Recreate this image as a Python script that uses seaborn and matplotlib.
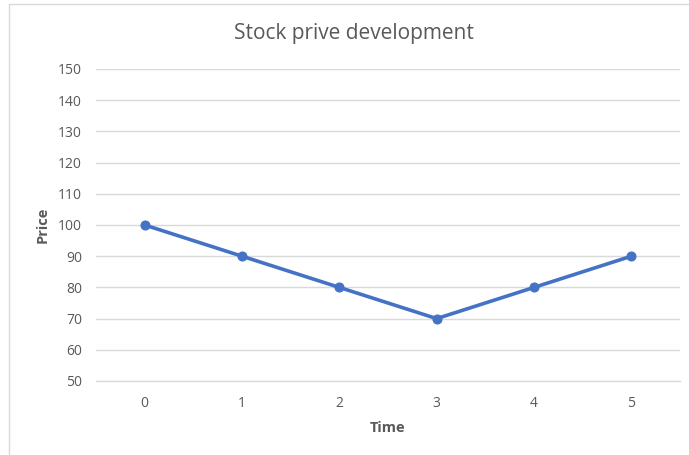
import matplotlib
matplotlib.use("Agg")
import matplotlib.pyplot as plt
from matplotlib.patches import Rectangle
import seaborn as sns
import pandas as pd

# Stock price series
time = [0, 1, 2, 3, 4, 5]
price = [100, 90, 80, 70, 80, 90]
y_ticks = [50, 60, 70, 80, 90, 100, 110, 120, 130, 140, 150]

sns.set_theme(style="white")
plt.rcParams["font.family"] = ["Open Sans", "DejaVu Sans"]

df = pd.DataFrame({"Time": time, "Price": price})

W, H = 689, 455
fig = plt.figure(figsize=(W / 100, H / 100), dpi=100)
fig.patch.set_facecolor("white")

# thin chart-area frame
fig.patches.append(Rectangle((9 / W, -0.01), 1.0, 1 - 4 / H + 0.01,
                             transform=fig.transFigure, fill=False,
                             edgecolor="#d9d9d9", linewidth=1.0))

ax = fig.add_axes([96 / W, 1 - 381 / H, (680 - 96) / W, (381 - 69) / H])
ax.set_facecolor("white")

sns.lineplot(data=df, x="Time", y="Price", ax=ax, color="#4472C4",
             linewidth=2.6, marker="o", markersize=6.5,
             markeredgecolor="#4472C4", zorder=3, clip_on=False)

ax.set_xlim(-0.5, 5.5)
ax.set_ylim(50, 150)
ax.set_yticks(y_ticks)
ax.set_xticks(time)
ax.set_xticks([t - 0.5 for t in time] + [5.5], minor=True)

ax.yaxis.grid(True, color="#d9d9d9", linewidth=1.0)
ax.set_axisbelow(True)
for side in ["top", "right", "left"]:
    ax.spines[side].set_visible(False)
ax.spines["bottom"].set_color("#d9d9d9")
ax.spines["bottom"].set_linewidth(1.0)

ax.tick_params(axis="y", length=0, pad=10, labelsize=10, labelcolor="#595959")
ax.tick_params(axis="x", which="major", length=0, pad=11, labelsize=10,
               labelcolor="#595959")
ax.tick_params(axis="x", which="minor", length=4, width=1.0,
               color="#d9d9d9", direction="out")

ax.set_xlabel("Time", fontsize=10.5, fontweight="bold", color="#595959",
              labelpad=7)
ax.set_ylabel("Price", fontsize=10.5, fontweight="bold", color="#595959",
              labelpad=6)

fig.text(354 / W, 1 - 33 / H, "Stock prive development", ha="center",
         va="center", fontsize=15, color="#595959")

fig.savefig("out.png", dpi=100)
